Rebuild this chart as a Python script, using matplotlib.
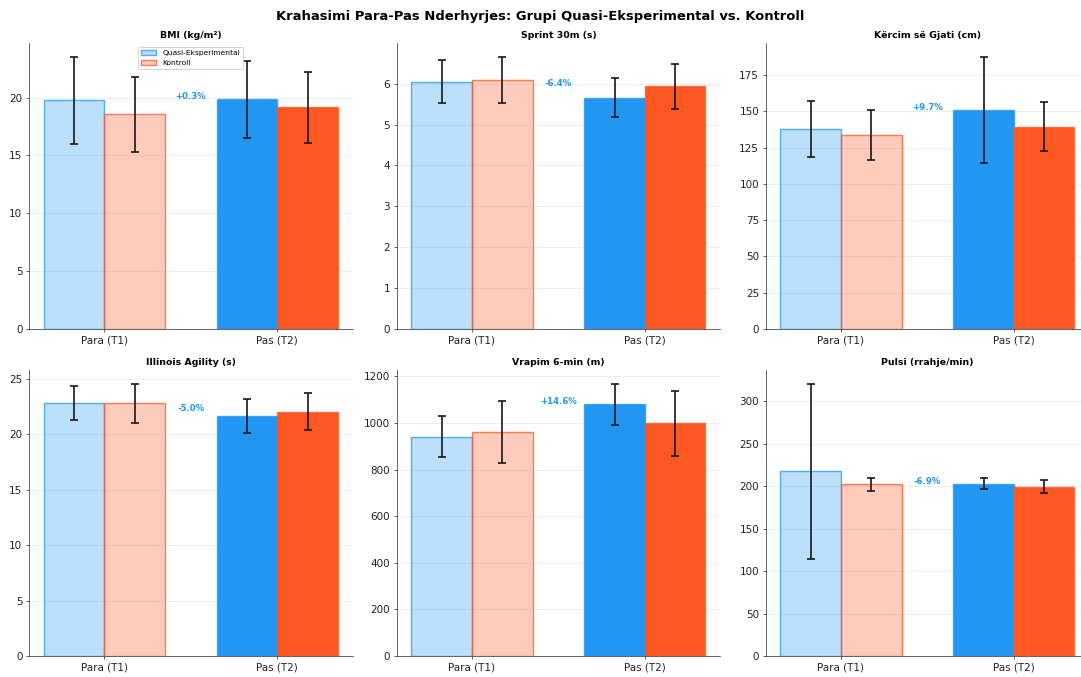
import matplotlib
matplotlib.use("Agg")
import matplotlib.pyplot as plt
from matplotlib.colors import to_rgba
import numpy as np

# ---- data ----
time_labels = ["Para (T1)", "Pas (T2)"]
group_labels = ["Quasi-Eksperimental", "Kontroll"]
titles = ["BMI (kg/m²)", "Sprint 30m (s)", "Kërcim së Gjati (cm)",
          "Illinois Agility (s)", "Vrapim 6-min (m)", "Pulsi (rrahje/min)"]

quasi_means = [[19.77, 19.86], [6.05, 5.66], [137.8, 151.0],
               [22.80, 21.65], [942, 1080], [217.6, 203.0]]
quasi_sds = [[3.77, 3.34], [0.53, 0.47], [19.2, 36.8],
             [1.54, 1.54], [89, 89], [103, 6.0]]
ctrl_means = [[18.55, 19.16], [6.09, 5.93], [133.7, 139.5],
              [22.80, 22.05], [961, 998], [202.0, 199.5]]
ctrl_sds = [[3.23, 3.05], [0.57, 0.56], [17.1, 16.9],
            [1.77, 1.65], [132, 139], [7.3, 8.0]]
pct_labels = ["+0.3%", "-6.4%", "+9.7%", "-5.0%", "+14.6%", "-6.9%"]

BLUE = "#2196F3"
ORANGE = "#FF5722"

W, H = 1081, 677
dpi = W / 16
fig = plt.figure(figsize=(W / dpi, H / dpi), dpi=dpi)
fig.suptitle("Krahasimi Para-Pas Nderhyrjes: Grupi Quasi-Eksperimental vs. Kontroll",
             fontsize=14, fontweight="bold", y=0.985)

lefts = [29, 396.7, 765.7]
tops = [43, 370]
aw, ah = 323.5, 286

x = np.arange(len(time_labels))
width = 0.35
ekw = dict(ecolor="#1a1a1a", elinewidth=1.8, capthick=1.8)

for i in range(6):
    r, c = divmod(i, 3)
    ax = fig.add_axes([lefts[c] / W, (H - tops[r] - ah) / H, aw / W, ah / H])
    for j in range(2):
        fa = 0.3 if j == 0 else 1.0
        ax.bar(x[j] - width / 2, quasi_means[i][j], width,
               yerr=quasi_sds[i][j], capsize=4.5,
               facecolor=to_rgba(BLUE, fa), edgecolor=to_rgba(BLUE, 0.75), linewidth=1.5,
               error_kw=ekw,
               label=group_labels[0] if j == 0 else None)
        ax.bar(x[j] + width / 2, ctrl_means[i][j], width,
               yerr=ctrl_sds[i][j], capsize=4.5,
               facecolor=to_rgba(ORANGE, fa), edgecolor=to_rgba(ORANGE, 0.75), linewidth=1.5,
               error_kw=ekw,
               label=group_labels[1] if j == 0 else None)
    ymax_t2 = max(quasi_means[i][1], ctrl_means[i][1])
    ax.text(0.5, ymax_t2 * 1.012, pct_labels[i], ha="center", va="center",
            fontsize=9, fontweight="bold", color=BLUE)
    ax.set_title(titles[i], fontsize=10, fontweight="bold", pad=5)
    ax.set_xticks(x)
    ax.set_xticklabels(time_labels)
    ax.tick_params(labelsize=11, colors="#333333")
    ax.tick_params(axis="both", labelcolor="#222222")
    ax.yaxis.grid(True, alpha=0.3)
    ax.set_axisbelow(True)
    ax.spines["top"].set_visible(False)
    ax.spines["right"].set_visible(False)
    ax.spines["left"].set_color("#333333")
    ax.spines["bottom"].set_color("#333333")
    if i == 0:
        ax.legend(loc="upper center", fontsize=8, framealpha=0.9)

fig.savefig("out.png", dpi=dpi)
